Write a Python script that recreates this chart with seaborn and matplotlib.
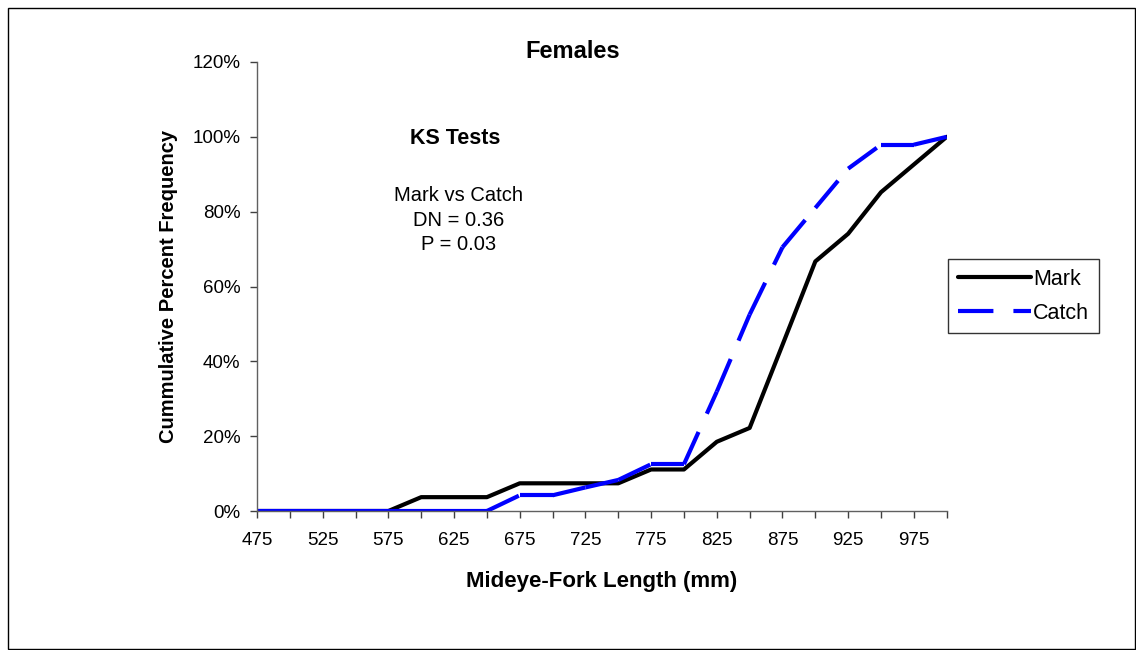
import matplotlib
matplotlib.use("Agg")
import matplotlib.pyplot as plt
from matplotlib.patches import Rectangle
from matplotlib.lines import Line2D
from matplotlib.ticker import FuncFormatter
import seaborn as sns
import pandas as pd

# Length classes (mm) and cumulative percent frequencies
lengths = [475, 500, 525, 550, 575, 600, 625, 650, 675, 700, 725,
           750, 775, 800, 825, 850, 875, 900, 925, 950, 975, 1000]
mark = [0, 0, 0, 0, 0, 3.7, 3.7, 3.7, 7.4, 7.4, 7.4,
        7.4, 11.1, 11.1, 18.5, 22.2, 44.4, 66.7, 74.1, 85.2, 92.6, 100]
catch = [0, 0, 0, 0, 0, 0, 0, 0, 4.2, 4.2, 6.3,
         8.3, 12.5, 12.5, 31.9, 52.5, 70.5, 81.0, 91.5, 97.9, 97.9, 100]
tick_labels = ["475", "", "525", "", "575", "", "625", "", "675", "", "725",
               "", "775", "", "825", "", "875", "", "925", "", "975", ""]
y_ticks = [0, 20, 40, 60, 80, 100, 120]

title = "Females"
x_label = "Mideye-Fork Length (mm)"
y_label = "Cummulative Percent Frequency"
ks_head = "KS Tests"
ks_lines = ["Mark vs Catch", "DN = 0.36", "P = 0.03"]

sns.set_theme(style="white")
plt.rcParams["font.family"] = ["Liberation Sans", "DejaVu Sans"]
plt.rcParams["text.color"] = "black"
plt.rcParams["axes.labelcolor"] = "black"

W, H = 1136, 650
fig = plt.figure(figsize=(W / 100, H / 100), dpi=100)
fig.patch.set_facecolor("white")

L, R, T, B = 257, 946.7, 62, 511
ax = fig.add_axes([L / W, 1 - B / H, (R - L) / W, (B - T) / H])

df = pd.DataFrame({"length": lengths, "Mark": mark, "Catch": catch})

MARK_COLOR = "black"
CATCH_COLOR = "#0000FF"
LW = 3.0
CATCH_DASH = (0, (8.5, 4.8))

sns.lineplot(data=df, x="length", y="Mark", ax=ax, color=MARK_COLOR,
             linewidth=LW, legend=False)

# The dashed series is drawn segment by segment so the dash pattern
# starts afresh at every data point.
for i in range(len(lengths) - 1):
    seg = df.iloc[i:i + 2]
    sns.lineplot(data=seg, x="length", y="Catch", ax=ax, color=CATCH_COLOR,
                 linewidth=LW, legend=False, linestyle=CATCH_DASH)

ax.set_xlim(lengths[0], lengths[-1])
ax.set_ylim(0, 120)
ax.set_xticks(lengths)
ax.set_xticklabels(tick_labels)
ax.set_yticks(y_ticks)
ax.yaxis.set_major_formatter(FuncFormatter(lambda v, p: f"{v:.0f}%"))

for side in ["top", "right"]:
    ax.spines[side].set_visible(False)
for side in ["left", "bottom"]:
    ax.spines[side].set_color("#606060")
    ax.spines[side].set_linewidth(1.0)

ax.tick_params(axis="both", which="major", direction="out", length=5,
               width=1.0, color="#404040", labelsize=13.5, labelcolor="black")
ax.tick_params(axis="x", pad=10, bottom=True)
ax.tick_params(axis="y", pad=7, left=True)

ax.set_xlabel(x_label, fontsize=16, fontweight="bold", labelpad=16,
              color="black")
ax.set_ylabel(y_label, fontsize=14.5, fontweight="bold", labelpad=10,
              color="black")

fig.text(573 / W, 1 - 51 / H, title, ha="center", va="center",
         fontsize=17, fontweight="bold", color="black")

# KS test annotation
fig.text(455 / W, 1 - 139 / H, ks_head, ha="center", va="center",
         fontsize=15.5, fontweight="bold", color="black")
for i, line in enumerate(ks_lines):
    fig.text(459 / W, 1 - (195 + 25 * i) / H, line, ha="center",
             va="center", fontsize=14.5, color="black")

handles = [Line2D([], [], color=MARK_COLOR, linewidth=LW),
           Line2D([], [], color=CATCH_COLOR, linewidth=LW,
                  linestyle=CATCH_DASH)]
leg = fig.legend(handles, ["Mark", "Catch"], loc="upper left",
                 bbox_to_anchor=(948 / W, 1 - 259 / H), borderaxespad=0,
                 fontsize=15.5, handlelength=3.4, handletextpad=0.1,
                 borderpad=0.45, labelspacing=0.6, frameon=True,
                 fancybox=False, shadow=False)
leg.get_frame().set_edgecolor("black")
leg.get_frame().set_linewidth(1.0)
for txt in leg.get_texts():
    txt.set_color("black")

# Outer chart border
fig.patches.append(Rectangle((8 / W, 1 - 649 / H), (1135 - 8) / W,
                             (649 - 8) / H, transform=fig.transFigure,
                             fill=False, edgecolor="black", linewidth=1.0))

fig.savefig("out.png", dpi=100, facecolor="white")
